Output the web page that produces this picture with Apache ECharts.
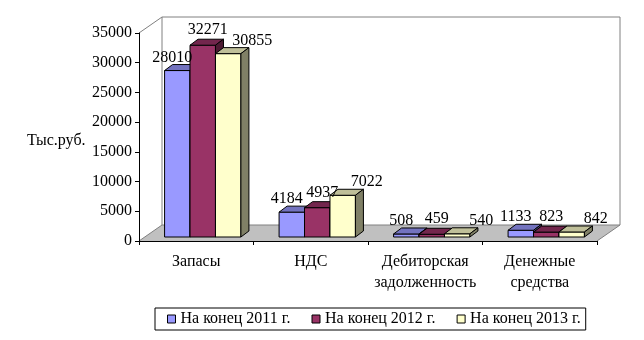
<!DOCTYPE html>
<html><head><meta charset="utf-8">
<script src="https://cdn.jsdelivr.net/npm/echarts@6/dist/echarts.min.js"></script>
<style>html,body{margin:0;padding:0;background:#fff}#c{width:644px;height:340px}</style>
</head><body><div id="c"></div>
<script>
// ---- data ----
const categories = ['Запасы', 'НДС', 'Дебиторская\nзадолженность', 'Денежные\nсредства'];
const seriesNames = ['На конец 2011 г.', 'На конец 2012 г.', 'На конец 2013 г.'];
const values2011 = [28010, 4184, 508, 1133];
const values2012 = [32271, 4937, 459, 823];
const values2013 = [30855, 7022, 540, 842];
const yMin = 0, yMax = 35000, yStep = 5000;
const yAxisTitle = 'Тыс.руб.';

// ---- style ----
const FONT = '"Liberation Serif", "Times New Roman", serif';
const FS = 16;
const frontColors = ['#9999FF', '#993366', '#FFFFCC'];
const topColors = ['#7373BF', '#73264D', '#BFBF99'];
const sideColors = ['#4D4D80', '#4D1A33', '#808066'];
const FX = 6.5, FY = -4;      // bar front face offset (depth position)
const DX = 8, DY = -6;        // bar depth
const WX = 23, WY = -16;      // wall / floor depth
const labelOff = [[-5, -7], [5, -9], [24, -7]];

function barRender(s) {
  return function (params, api) {
    const ci = api.value(0), v = api.value(1);
    const base = api.coord([ci, 0]);
    const top = api.coord([ci, v]);
    const band = api.size([1, 0])[0];
    const bw = band / 4.5;
    const x0 = base[0] - 1.5 * bw + s * bw + FX;
    const x1 = x0 + bw;
    const yb = base[1] + FY;
    const yt = top[1] + FY;
    const stroke = { stroke: '#000', lineWidth: 1 };
    return {
      type: 'group',
      children: [
        { type: 'rect', shape: { x: x0, y: yt, width: bw, height: yb - yt },
          style: Object.assign({ fill: frontColors[s] }, stroke) },
        { type: 'polygon', shape: { points: [[x0, yt], [x1, yt], [x1 + DX, yt + DY], [x0 + DX, yt + DY]] },
          style: Object.assign({ fill: topColors[s] }, stroke) },
        { type: 'polygon', shape: { points: [[x1, yt], [x1 + DX, yt + DY], [x1 + DX, yb + DY], [x1, yb]] },
          style: Object.assign({ fill: sideColors[s] }, stroke) },
        { type: 'text', z2: 100, style: {
            text: String(v), x: (x0 + x1) / 2 + labelOff[s][0], y: yt + DY + labelOff[s][1],
            align: 'center', verticalAlign: 'middle', textAlign: 'center', textVerticalAlign: 'middle',
            fill: '#000', fontSize: FS, fontFamily: FONT } }
      ]
    };
  };
}

function wallRender(params, api) {
  const cs = params.coordSys;
  const x = cs.x, y = cs.y, w = cs.width, h = cs.height;
  const g = '#808080';
  return {
    type: 'group',
    children: [
      { type: 'polygon', shape: { points: [[x, y + h], [x + w, y + h], [x + w + WX, y + h + WY], [x + WX, y + h + WY]] },
        style: { fill: '#C0C0C0', stroke: null } },
      { type: 'polyline', shape: { points: [[x + w, y + h], [x + w + WX, y + h + WY], [x + WX, y + h + WY], [x, y + h]] },
        style: { fill: null, stroke: g, lineWidth: 1 } },
      { type: 'polyline', shape: { points: [[x, y], [x + WX, y + WY], [x + w + WX, y + WY], [x + w + WX, y + h + WY]] },
        style: { fill: null, stroke: g, lineWidth: 1 } },
      { type: 'line', shape: { x1: x + WX, y1: y + WY, x2: x + WX, y2: y + h + WY },
        style: { stroke: g, lineWidth: 1 } }
    ]
  };
}

const seriesValues = [values2011, values2012, values2013];
const series = [{
  type: 'custom', name: '_wall', z: -1, silent: true, renderItem: wallRender,
  data: [[0, 0]], encode: { x: 0, y: 1 }
}];
seriesValues.forEach(function (vals, s) {
  series.push({
    type: 'custom', name: seriesNames[s], renderItem: barRender(s),
    itemStyle: { color: frontColors[s], borderColor: '#000', borderWidth: 1 },
    data: vals.map(function (v, i) { return [i, v]; }),
    encode: { x: 0, y: 1 }
  });
});

const chart = echarts.init(document.getElementById('c'), null, { renderer: 'canvas' });
chart.setOption({
  animation: false,
  backgroundColor: '#fff',
  textStyle: { fontFamily: FONT, color: '#000' },
  title: { text: yAxisTitle, left: 27, top: 133, padding: 0,
    textStyle: { fontFamily: FONT, fontSize: FS, fontWeight: 'normal', color: '#000' } },
  legend: {
    data: seriesNames, left: 155, top: 308, orient: 'horizontal',
    itemWidth: 8, itemHeight: 8, itemGap: 21, icon: 'rect',
    padding: [3, 5, 3, 12], borderColor: '#000', borderWidth: 1,
    textStyle: { fontFamily: FONT, fontSize: FS, color: '#000' },
    itemStyle: { borderColor: '#000', borderWidth: 1 }
  },
  grid: { left: 139, right: 47, top: 33, bottom: 99, containLabel: false },
  xAxis: {
    type: 'category', data: categories, boundaryGap: true, z: 10,
    axisLine: { show: true, lineStyle: { color: '#000', width: 1 } },
    axisTick: { show: true, length: 4, lineStyle: { color: '#000' } },
    axisLabel: { margin: 10, fontFamily: FONT, fontSize: FS, color: '#000', lineHeight: 21, interval: 0 },
    splitLine: { show: false }
  },
  yAxis: {
    type: 'value', min: yMin, max: yMax, interval: yStep, z: 10,
    axisLine: { show: true, lineStyle: { color: '#000', width: 1 } },
    axisTick: { show: true, length: 4, lineStyle: { color: '#000' } },
    axisLabel: { margin: 7, fontFamily: FONT, fontSize: FS, color: '#000',
      formatter: function (v) { return String(v); } },
    splitLine: { show: false }
  },
  series: series
});
</script>
</body></html>
